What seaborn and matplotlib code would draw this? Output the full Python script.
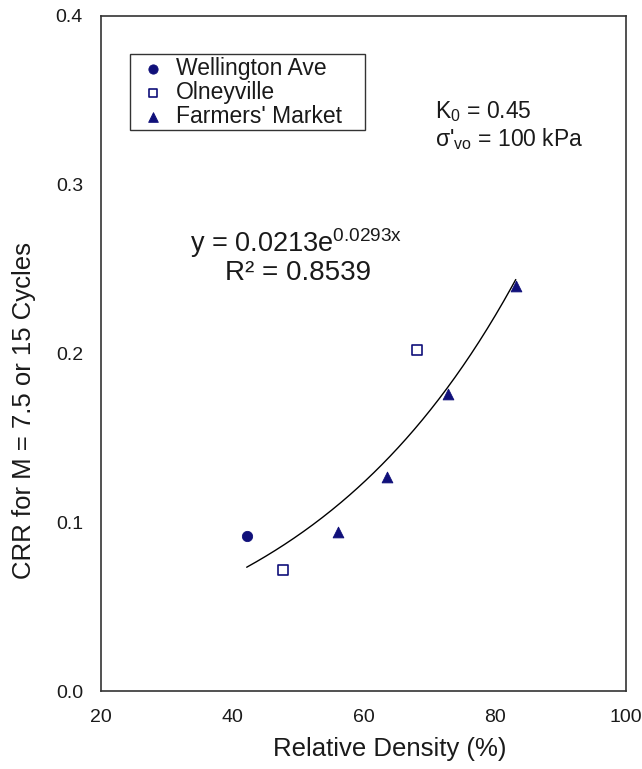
import numpy as np
import pandas as pd
import matplotlib
matplotlib.use("Agg")
import matplotlib.pyplot as plt
from matplotlib.patches import Rectangle
import seaborn as sns

# ---- data ----
wellington_x = [42.2]
wellington_y = [0.092]
olneyville_x = [47.7, 68.2]
olneyville_y = [0.072, 0.202]
farmers_x = [56.1, 63.6, 72.9, 83.2]
farmers_y = [0.094, 0.127, 0.176, 0.240]
fit_a = 0.0213
fit_b = 0.0293
fit_r2 = 0.8539
x_ticks = [20, 40, 60, 80, 100]
y_ticks = [0.0, 0.1, 0.2, 0.3, 0.4]

sns.set_theme(style="white")
plt.rcParams['font.family'] = ['Liberation Sans', 'DejaVu Sans']
plt.rcParams['mathtext.fontset'] = 'custom'
plt.rcParams['mathtext.rm'] = 'Liberation Sans'
plt.rcParams['mathtext.it'] = 'Liberation Sans'
plt.rcParams['mathtext.default'] = 'rm'

navy = '#10107a'
txt = '#1a1a1a'

fig = plt.figure(figsize=(6.42, 7.69), dpi=100)
ax = fig.add_axes([101/642, 1-691/769, 525/642, 675/769])

df_w = pd.DataFrame({'x': wellington_x, 'y': wellington_y})
df_o = pd.DataFrame({'x': olneyville_x, 'y': olneyville_y})
df_f = pd.DataFrame({'x': farmers_x, 'y': farmers_y})

# trendline
all_x = wellington_x + olneyville_x + farmers_x
xs = np.linspace(min(all_x), max(all_x), 200)
sns.lineplot(x=xs, y=fit_a * np.exp(fit_b * xs), ax=ax, color='black', lw=1.0, zorder=1)

sns.scatterplot(data=df_w, x='x', y='y', ax=ax, marker='o', s=55, color=navy,
                edgecolor=navy, label='Wellington Ave', zorder=3)
sns.scatterplot(data=df_o, x='x', y='y', ax=ax, marker='s', s=50, facecolor='white',
                edgecolor=navy, linewidth=1.2, label='Olneyville', zorder=3)
sns.scatterplot(data=df_f, x='x', y='y', ax=ax, marker='^', s=60, color=navy,
                edgecolor=navy, label="Farmers' Market", zorder=3)

ax.set_xlim(20, 100)
ax.set_ylim(0, 0.4)
ax.set_xticks(x_ticks)
ax.set_yticks(y_ticks)
ax.set_xticklabels([str(t) for t in x_ticks])
ax.set_yticklabels([f"{t:.1f}" for t in y_ticks])
ax.tick_params(axis='both', direction='in', length=5, width=1, colors='#333333',
               labelsize=14, labelcolor=txt)
ax.tick_params(axis='y', pad=13)
ax.tick_params(axis='x', pad=13)
for s in ax.spines.values():
    s.set_visible(True)
    s.set_color('#333333')
    s.set_linewidth(1.2)

ax.set_xlabel('Relative Density (%)', fontsize=18.5, color=txt, va='center', ha='center')
ax.xaxis.set_label_coords(0.55, -0.086)
ax.set_ylabel('CRR for M = 7.5 or 15 Cycles', fontsize=18.5, color=txt, va='center', ha='center')
ax.yaxis.set_label_coords(-0.147, 0.415)

leg = ax.legend(loc='upper left', bbox_to_anchor=(29/525, 1-36/675), frameon=False,
                fontsize=16.5, handletextpad=0.2,
                borderpad=0.2, labelspacing=0.05, handlelength=1.6, borderaxespad=0,
                markerscale=0.9)
for t in leg.get_texts():
    t.set_color(txt)
ax.add_patch(Rectangle((29/525, (691-130)/675), 235/525, 76/675, transform=ax.transAxes,
                       facecolor='none', edgecolor='#333333', lw=1.0, zorder=4))
ax.text(0.17, 0.664, f"y = {fit_a}e$^{{{fit_b}x}}$", transform=ax.transAxes,
        fontsize=19.5, color=txt, ha='left', va='center')
ax.text(0.375, 0.619, f"R² = {fit_r2}", transform=ax.transAxes,
        fontsize=20, color=txt, ha='center', va='center')

ax.text(0.636, 0.859, "K$_0$ = 0.45", transform=ax.transAxes,
        fontsize=16.5, color=txt, ha='left', va='center')
ax.text(0.636, 0.818, "σ'$_{vo}$ = 100 kPa", transform=ax.transAxes,
        fontsize=16.5, color=txt, ha='left', va='center')

fig.savefig('out.png', dpi=100)
